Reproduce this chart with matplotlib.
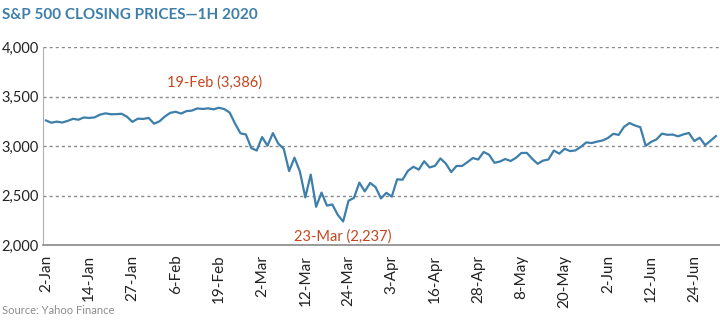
import matplotlib.pyplot as plt
from matplotlib.ticker import FuncFormatter

# S&P 500 daily closes, 2-Jan to 30-Jun 2020 (trading days)
closes = [
    3257.85, 3234.85, 3246.28, 3237.18, 3253.05, 3274.70, 3265.35, 3288.13, 3283.15, 3289.29,
    3316.81, 3329.62, 3320.79, 3321.75, 3325.54, 3295.47, 3243.63, 3276.24, 3273.40, 3283.66,
    3225.52, 3248.92, 3297.59, 3334.69, 3345.78, 3327.71, 3352.09, 3357.75, 3379.45, 3373.94,
    3380.16, 3370.29, 3386.15, 3373.23, 3337.75, 3225.89, 3128.21, 3116.39, 2978.76, 2954.22,
    3090.23, 3003.37, 3130.12, 3023.94, 2972.37, 2746.56, 2882.23, 2741.38, 2480.64, 2711.02,
    2386.13, 2529.19, 2398.10, 2409.39, 2304.92, 2237.40, 2447.33, 2475.56, 2630.07, 2541.47,
    2626.65, 2584.59, 2470.50, 2526.90, 2488.65, 2663.68, 2659.41, 2749.98, 2789.82, 2761.63,
    2846.06, 2783.36, 2799.55, 2874.56, 2823.16, 2736.56, 2799.31, 2797.80, 2836.74, 2878.48,
    2863.39, 2939.51, 2912.43, 2830.71, 2842.74, 2868.44, 2848.42, 2881.19, 2929.80, 2930.32,
    2870.12, 2820.00, 2852.50, 2863.70, 2953.91, 2922.94, 2971.61, 2948.51, 2955.45, 2991.77,
    3036.13, 3029.73, 3044.31, 3055.73, 3080.82, 3122.87, 3112.35, 3193.93, 3232.39, 3207.18,
    3190.14, 3002.10, 3041.31, 3066.59, 3124.74, 3113.49, 3115.34, 3097.74, 3117.86, 3131.29,
    3050.33, 3083.76, 3009.05, 3053.24, 3100.29,
]

# every 8th trading day gets a label
tick_labels = ["2-Jan", "14-Jan", "27-Jan", "6-Feb", "19-Feb", "2-Mar", "12-Mar", "24-Mar",
               "3-Apr", "16-Apr", "28-Apr", "8-May", "20-May", "2-Jun", "12-Jun", "24-Jun"]
tick_pos = [i * 8 for i in range(len(tick_labels))]

high_idx, low_idx = 32, 55
high_label = "19-Feb (3,386)"
low_label = "23-Mar (2,237)"

plt.rcParams['font.family'] = ['Lato', 'DejaVu Sans']

BLUE = "#3d7eaa"
RED = "#c4451f"

fig = plt.figure(figsize=(7.2, 3.27), dpi=100)
ax = fig.add_axes([43 / 720, 1 - 245 / 327, 1 - 43 / 720, 198 / 327])

ax.plot(range(len(closes)), closes, color=BLUE, linewidth=1.6, solid_joinstyle="round")

ax.set_ylim(2000, 4000)
ax.set_xlim(-0.55, len(closes) - 0.25)
ax.set_yticks([2000, 2500, 3000, 3500, 4000])
ax.yaxis.set_major_formatter(FuncFormatter(lambda v, p: f"{int(v):,}"))
ax.set_xticks(tick_pos)
ax.set_xticklabels(tick_labels, rotation=90)
ax.tick_params(axis="both", length=0, colors="#222222")
ax.tick_params(axis="x", pad=7, labelsize=11)
ax.tick_params(axis="y", pad=3, labelsize=10.5)

ax.grid(axis="y", color="#8a8a8a", linestyle=(0, (2.2, 2.2)), linewidth=1.0)
ax.set_axisbelow(True)
for s in ["top", "right"]:
    ax.spines[s].set_visible(False)
ax.spines["left"].set_color("#b0b0b0")
ax.spines["bottom"].set_color("#8a8a8a")
ax.spines["bottom"].set_linewidth(1.2)

ax.annotate(high_label, (high_idx, closes[high_idx]), xytext=(-3, 13), textcoords="offset points",
            ha="center", va="bottom", color=RED, fontsize=10.5)
ax.annotate(low_label, (low_idx, closes[low_idx]), xytext=(0, -6), textcoords="offset points",
            ha="center", va="top", color=RED, fontsize=10.5)

fig.text(2 / 720, 1 - 15 / 327, "S&P 500 CLOSING PRICES\u20141H 2020", color=BLUE,
         fontsize=11, fontweight="bold", va="center", ha="left")
fig.text(2 / 720, 1 - 311 / 327, "Source: Yahoo Finance", color="#8c8c8c",
         fontsize=8, va="center", ha="left")

fig.savefig("out.png", dpi=100)
